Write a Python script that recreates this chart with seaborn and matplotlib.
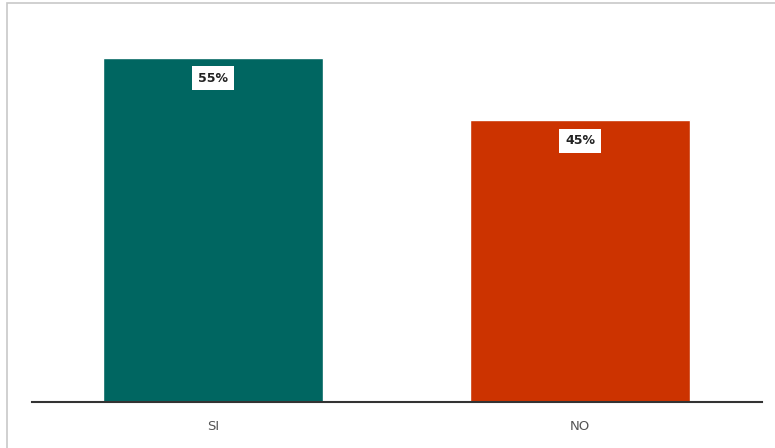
import numpy as np
import pandas as pd
import matplotlib
matplotlib.use('Agg')
import matplotlib.pyplot as plt
import seaborn as sns

# donnees du graphique
categorias = ['SI', 'NO']
porcentajes = [55, 45]
colores = ['#006661', '#CC3300']

data = pd.DataFrame({'respuesta': categorias, 'pct': porcentajes})

sns.set_style('white')
plt.rcParams['font.family'] = ['DejaVu Sans']

fig = plt.figure(figsize=(7.75, 4.48), dpi=100)
ax = fig.add_axes([32/775, 1 - 402/448, 730/775, 382/448])

sns.barplot(x='respuesta', y='pct', hue='respuesta', data=data, palette=colores,
            width=0.6, legend=False, saturation=1, ax=ax)

ax.set_xlim(-0.493, 1.496)
ax.set_ylim(0, 382/6.26)
ax.set_xlabel('')
ax.set_ylabel('')
ax.set_yticks([])
for s in ['top', 'right', 'left']:
    ax.spines[s].set_visible(False)
ax.spines['bottom'].set_color('#333333')
ax.spines['bottom'].set_linewidth(1.5)
ax.tick_params(axis='x', length=0, pad=13, labelsize=9.5, labelcolor='#555555')

# etiquetas con caja blanca
for i, v in enumerate(porcentajes):
    ax.text(i, v - 3.3, f'{v}%', ha='center', va='center', fontsize=9,
            fontweight='bold', color='#222222',
            bbox=dict(boxstyle='square,pad=0.45', fc='white', ec='none'))

# marco
fig.patches.append(plt.Rectangle((7/775, -0.1), 1, 1.1 - 3/448, transform=fig.transFigure,
                                 fill=False, ec='#c8c8c8', lw=1.2))

fig.savefig('out.png', dpi=100)
